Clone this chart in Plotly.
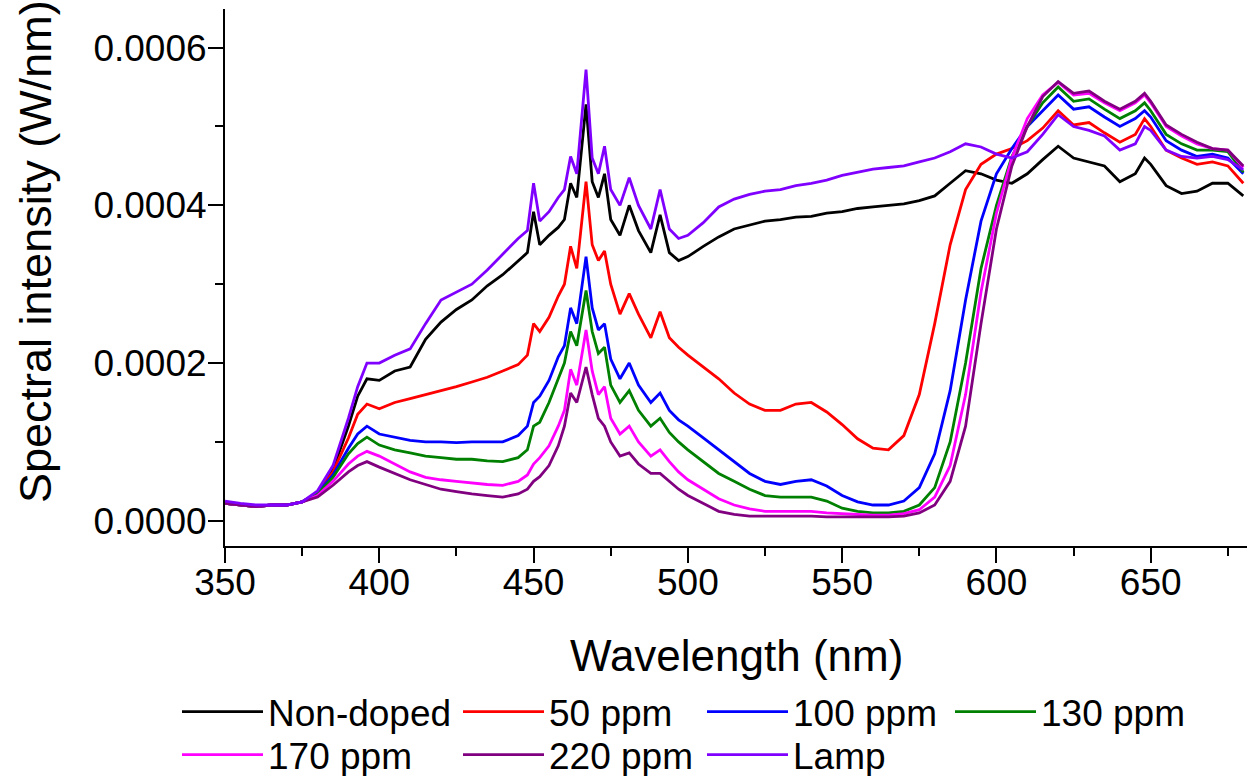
import numpy as np
import plotly.graph_objects as go

# Wavelength grid (nm)
wavelength = [350, 355, 360, 365, 370, 375, 380, 385, 390, 393, 396, 400, 405, 410, 415, 420, 425, 430, 435, 440,
              445, 448, 450, 452, 455, 458, 460, 462, 464, 467, 469, 471, 473, 475, 478, 481, 484, 488, 491, 494,
              497, 500, 505, 510, 515, 520, 525, 530, 535, 540, 545, 550, 555, 560, 565, 570, 575, 580, 585, 590,
              595, 600, 605, 610, 615, 620, 625, 630, 635, 640, 645, 648, 650, 655, 660, 665, 670, 675, 680]

# Spectral intensities in microwatt/nm (converted to W/nm below)
non_doped = [22, 20, 18, 20, 20, 24, 36, 65, 120, 158, 180, 178, 190, 195, 230, 252, 268, 280, 298, 312,
             330, 340, 392, 350, 362, 372, 382, 428, 410, 528, 430, 410, 440, 382, 362, 400, 368, 340, 388, 340,
             330, 335, 348, 360, 370, 375, 380, 382, 385, 386, 390, 392, 396, 398, 400, 402, 406, 412, 428, 444,
             440, 432, 428, 440, 458, 475, 460, 455, 450, 430, 440, 460, 452, 425, 415, 418, 428, 428, 412]
ppm50 = [22, 20, 18, 20, 20, 24, 36, 62, 105, 135, 148, 142, 150, 155, 160, 165, 170, 176, 182, 190,
         198, 210, 250, 240, 258, 285, 300, 348, 320, 430, 350, 330, 342, 300, 262, 288, 262, 232, 265, 232,
         220, 210, 195, 180, 162, 148, 140, 140, 148, 150, 138, 122, 104, 92, 90, 108, 160, 250, 350, 420,
         452, 465, 472, 482, 498, 520, 502, 505, 492, 480, 490, 510, 500, 470, 460, 452, 455, 450, 428]
ppm100 = [22, 20, 18, 20, 20, 24, 35, 58, 92, 110, 120, 110, 106, 102, 100, 100, 99, 100, 100, 100,
          108, 120, 150, 158, 178, 208, 222, 270, 250, 335, 270, 242, 250, 205, 180, 200, 172, 150, 162, 140,
          128, 120, 105, 90, 75, 60, 50, 46, 50, 52, 44, 32, 24, 20, 20, 25, 42, 85, 165, 280,
          380, 440, 472, 500, 520, 540, 522, 525, 512, 500, 510, 520, 512, 482, 470, 462, 465, 460, 440]
ppm130 = [22, 20, 18, 20, 20, 24, 34, 55, 85, 98, 106, 96, 90, 86, 82, 80, 78, 78, 76, 75,
          80, 90, 120, 125, 150, 180, 200, 240, 222, 292, 240, 212, 220, 172, 150, 165, 140, 120, 130, 112,
          100, 90, 75, 60, 50, 40, 32, 30, 30, 30, 25, 16, 12, 10, 10, 12, 20, 42, 100, 200,
          320, 400, 462, 500, 530, 550, 532, 535, 522, 510, 520, 530, 520, 490, 478, 470, 470, 468, 442]
ppm170 = [22, 20, 18, 20, 20, 24, 32, 50, 72, 82, 88, 82, 72, 62, 55, 52, 50, 48, 46, 45,
          50, 58, 72, 80, 95, 120, 140, 192, 172, 242, 190, 160, 170, 130, 110, 120, 100, 82, 90, 75,
          62, 52, 40, 28, 20, 15, 12, 12, 12, 12, 10, 9, 8, 7, 7, 9, 14, 30, 70, 160,
          290, 390, 460, 510, 540, 556, 540, 542, 530, 520, 530, 540, 530, 500, 488, 478, 472, 470, 448]
ppm220 = [22, 20, 18, 20, 20, 24, 30, 45, 62, 70, 75, 68, 60, 52, 46, 40, 37, 34, 32, 30,
          34, 40, 50, 56, 70, 95, 120, 162, 150, 195, 160, 130, 120, 100, 82, 86, 72, 60, 60, 50,
          40, 32, 22, 12, 8, 6, 6, 6, 6, 6, 5, 5, 5, 5, 5, 6, 10, 20, 50, 120,
          250, 370, 450, 500, 538, 557, 542, 545, 532, 522, 532, 542, 532, 502, 490, 480, 472, 470, 450]
lamp = [25, 22, 20, 20, 20, 24, 38, 70, 130, 170, 200, 200, 210, 218, 250, 280, 290, 300, 318, 338,
        358, 368, 428, 380, 392, 410, 420, 462, 440, 572, 460, 440, 475, 420, 400, 435, 400, 370, 420, 370,
        358, 362, 378, 398, 408, 414, 418, 420, 425, 428, 432, 438, 442, 446, 448, 450, 455, 460, 468, 478,
        474, 465, 460, 468, 490, 515, 500, 495, 488, 470, 478, 500, 495, 470, 462, 460, 462, 458, 445]

series_names = ["Non-doped", "50 ppm", "100 ppm", "130 ppm", "170 ppm", "220 ppm", "Lamp"]
series_values = [non_doped, ppm50, ppm100, ppm130, ppm170, ppm220, lamp]
series_colors = ["#000000", "#FF0000", "#0000FF", "#008000", "#FF00FF", "#800080", "#8000FF"]

# legend entry anchor positions (pixels): line start x, row center y
legend_px = [(182, 712), (463, 712), (707, 712), (955, 712), (182, 755), (463, 755), (707, 755)]

W, H = 1247, 776
ML, MR, MT, MB = 225, 0, 9, 230
PW, PH = W - ML - MR, H - MT - MB

FONT = "Liberation Sans, Arial, sans-serif"

fig = go.Figure()
for i, (name, vals, col) in enumerate(zip(series_names, series_values, series_colors)):
    lg = "legend" if i == 0 else f"legend{i+1}"
    fig.add_trace(go.Scatter(
        x=wavelength, y=np.array(vals) * 1e-6, mode="lines", name=name,
        line=dict(color=col, width=2.8), legend=lg))

legends = {}
for i, (px, py) in enumerate(legend_px):
    key = "legend" if i == 0 else f"legend{i+1}"
    legends[key] = dict(
        x=(px - 5 - ML) / PW, y=(H - MB - py) / PH, xanchor="left", yanchor="middle",
        xref="paper", yref="paper", orientation="v",
        font=dict(family=FONT, size=37, color="black"),
        bgcolor="rgba(0,0,0,0)", borderwidth=0, itemwidth=81,
        itemclick=False, itemdoubleclick=False)

fig.update_layout(
    width=W, height=H,
    margin=dict(l=ML, r=MR, t=MT, b=MB, autoexpand=False),
    paper_bgcolor="white", plot_bgcolor="white",
    font=dict(family=FONT, color="black"),
    showlegend=True,
    annotations=[
        dict(text="Wavelength (nm)", xref="paper", yref="paper",
             x=(736 - ML) / PW, y=(H - MB - 655) / PH, xanchor="center", yanchor="middle",
             showarrow=False, font=dict(family=FONT, size=44, color="black")),
        dict(text="Spectral intensity (W/nm)", xref="paper", yref="paper", textangle=-90,
             x=(35 - ML) / PW, y=(H - MB - 252) / PH, xanchor="center", yanchor="middle",
             showarrow=False, font=dict(family=FONT, size=45, color="black")),
    ],
    **legends,
)

fig.update_xaxes(
    range=[350, 681.2], showgrid=False, zeroline=False,
    showline=True, linecolor="black", linewidth=2,
    ticks="outside", ticklen=15, tickwidth=2, tickcolor="black",
    tick0=350, dtick=50, ticklabelstandoff=-12,
    minor=dict(ticks="outside", ticklen=8, tickwidth=2, tickcolor="black", dtick=25, tick0=350, showgrid=False),
    tickfont=dict(family=FONT, size=37, color="black"),
)
fig.update_yaxes(
    range=[-3.2e-5, 6.49e-4], showgrid=False, zeroline=False,
    showline=True, linecolor="black", linewidth=2,
    ticks="outside", ticklen=15, tickwidth=2, tickcolor="black",
    tick0=0, dtick=0.0002, tickformat=".4f", ticklabelstandoff=-6,
    minor=dict(ticks="outside", ticklen=8, tickwidth=2, tickcolor="black", dtick=0.0001, showgrid=False),
    tickfont=dict(family=FONT, size=37, color="black"),
)

fig.write_html("out.html", config={"displayModeBar": False},
               post_script="document.body.style.margin='0px';")
